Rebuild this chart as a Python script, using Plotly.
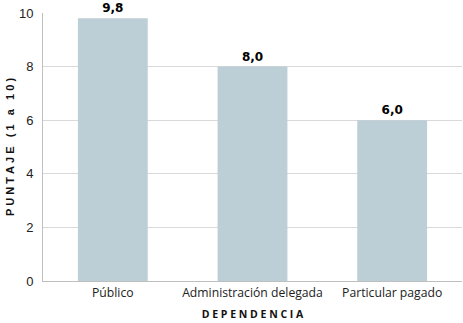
import plotly.graph_objects as go

categories = ["Público", "Administración delegada", "Particular pagado"]
values = [9.8, 8.0, 6.0]
y_ticks = [0, 2, 4, 6, 8, 10]

fig = go.Figure(go.Bar(
    x=categories, y=values,
    marker=dict(color="#bccfd6", line=dict(width=0)),
    texttemplate="%{y:.1f}", textposition="outside",
    textfont=dict(family="DejaVu Sans", size=12, color="#000000", weight="bold"),
    cliponaxis=False,
))

fig.update_layout(
    width=463, height=323,
    margin=dict(l=43, r=1, t=13, b=42),
    paper_bgcolor="white", plot_bgcolor="white",
    separators=",.",
    bargap=0.5,
    showlegend=False,
    xaxis=dict(
        showline=True, linecolor="#bfbfbf", linewidth=1,
        tickfont=dict(family="Open Sans", size=12.2, color="#222222"),
        title=dict(text=" ".join("DEPENDENCIA"), font=dict(family="Open Sans", size=10.5, color="#111111", weight="bold"), standoff=11),
        ticks="",
    ),
    yaxis=dict(
        range=[0, 10], tickvals=y_ticks,
        showline=True, linecolor="#bfbfbf", linewidth=1,
        gridcolor="#d9d9d9", gridwidth=1,
        zeroline=False,
        tickfont=dict(family="Liberation Sans", size=13, color="#222222"),
        ticklabelstandoff=6,
        title=dict(text="\u00a0".join("PUNTAJE (1 a 10)").replace("\u00a0 \u00a0", "\u00a0\u00a0\u00a0"), font=dict(family="Liberation Sans", size=11, color="#111111", weight="bold"), standoff=2),
    ),
)

fig.write_html("out.html")
